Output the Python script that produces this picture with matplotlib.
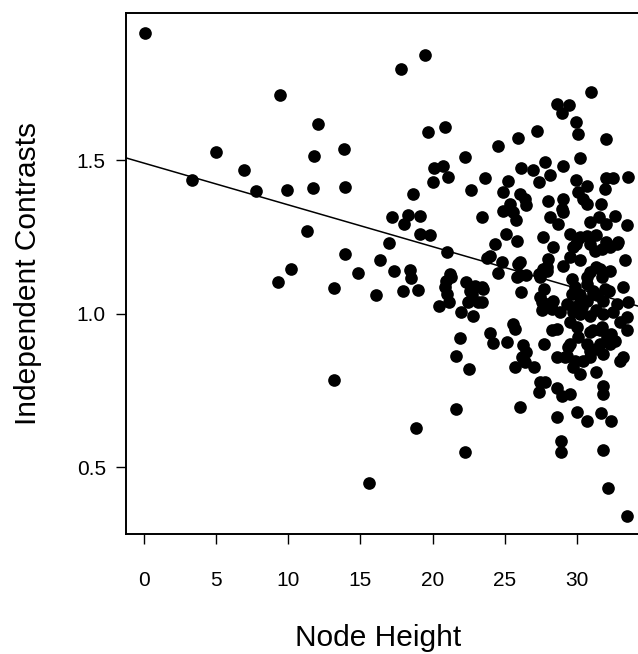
import matplotlib
import matplotlib.pyplot as plt
import numpy as np

matplotlib.use('Agg')
plt.rcParams['font.family'] = ['Liberation Sans', 'DejaVu Sans']

# Точки: высота узла и независимые контрасты
# левая, разреженная часть (x < 20)
height_left = [0.1, 3.3, 5.0, 6.95, 7.75, 9.3, 9.45, 9.9, 10.2, 11.3,
               11.7, 11.75, 12.05, 13.2, 13.2, 13.85, 13.95, 13.95, 14.85, 15.6,
               16.1, 16.35, 17.0, 17.2, 17.35, 17.8, 17.95, 18.05, 18.3, 18.45,
               18.5, 18.65, 18.85, 19.0, 19.15, 19.15, 19.45, 19.7, 19.8, 20.0]
contrast_left = [1.915, 1.434, 1.527, 1.467, 1.398, 1.104, 1.713, 1.404, 1.145, 1.27,
                 1.409, 1.512, 1.619, 1.082, 0.784, 1.537, 1.413, 1.195, 1.133, 0.449,
                 1.062, 1.176, 1.231, 1.313, 1.139, 1.798, 1.072, 1.291, 1.322, 1.143,
                 1.116, 1.389, 0.628, 1.078, 1.317, 1.258, 1.841, 1.592, 1.255, 1.429]

# 20 - 26
height_mid = [20.1, 20.45, 20.7, 20.85, 20.9, 20.85, 21.0, 21.0, 21.1, 21.15,
              21.2, 21.3, 21.65, 21.6, 21.9, 22.0, 22.25, 22.25, 22.35, 22.45,
              22.55, 22.6, 22.65, 22.7, 22.8, 22.95, 23.15, 23.4, 23.4, 23.45,
              23.5, 23.6, 23.75, 24.0, 24.2, 24.0, 24.3, 24.55, 24.55, 24.8,
              24.85, 24.9, 25.1, 25.15, 25.25, 25.35, 25.6, 25.6, 25.7, 25.7,
              25.8, 25.85, 25.85, 25.9, 25.95]
contrast_mid = [1.475, 1.024, 1.48, 1.608, 1.107, 1.086, 1.199, 1.064, 1.445, 1.037,
                1.13, 1.12, 0.69, 0.863, 0.92, 1.006, 1.51, 0.548, 1.102, 1.037,
                0.82, 1.075, 1.402, 1.064, 0.993, 1.091, 1.037, 1.313, 1.086, 1.037,
                1.08, 1.442, 1.182, 0.937, 0.905, 1.189, 1.227, 1.545, 1.131, 1.167,
                1.395, 1.335, 1.26, 0.907, 1.431, 1.357, 1.33, 0.966, 0.95, 0.825,
                1.305, 1.235, 1.12, 1.572, 1.162]

# 26 - 29
height_dense = [26.05, 26.05, 26.05, 26.05, 26.15, 26.15, 26.2, 26.3, 26.4, 26.4,
                26.5, 26.5, 26.5, 26.95, 27.0, 27.25, 27.35, 27.35, 27.4, 27.45,
                27.45, 27.45, 27.55, 27.6, 27.65, 27.7, 27.7, 27.8, 27.8, 27.9,
                27.9, 27.9, 28.0, 28.0, 28.15, 28.15, 28.25, 28.25, 28.35, 28.35,
                28.6, 28.6, 28.6, 28.6, 28.65, 28.7, 28.85, 28.9, 28.9, 28.95,
                28.95]
contrast_dense = [1.39, 1.167, 1.124, 0.695, 1.475, 1.069, 0.858, 0.896, 1.374, 0.841,
                  1.352, 1.127, 0.874, 1.469, 0.825, 1.594, 1.129, 0.744, 1.43, 1.118,
                  0.776, 1.053, 1.01, 1.037, 1.249, 1.08, 0.901, 1.493, 0.776, 1.151,
                  1.14, 1.032, 1.368, 1.178, 1.45, 1.314, 0.945, 1.015, 1.216, 1.042,
                  0.95, 0.858, 0.757, 0.662, 1.681, 1.292, 1.004, 0.586, 0.548, 1.341,
                  0.733]

# 29 и дальше
height_right = [29.0, 29.05, 29.05, 29.05, 29.2, 29.4, 29.45, 29.5, 29.5, 29.5,
                29.5, 29.65, 29.75, 29.75, 29.85, 29.95, 29.95, 29.95, 30.0, 30.05,
                30.1, 30.1, 30.2, 30.2, 30.2, 30.2, 30.2, 30.2, 30.45, 30.45,
                30.7, 30.7, 30.7, 30.7, 30.9, 30.9, 30.9, 30.9, 30.9, 30.9,
                30.9, 31.0, 31.15, 31.25, 31.35, 31.35, 31.35, 31.35, 31.35, 31.5,
                31.6, 31.6, 31.7, 31.7, 31.8, 31.8, 31.8, 31.8, 31.95, 32.0,
                32.05, 32.05, 32.05, 32.15, 32.2, 32.3, 32.4, 32.4, 32.5, 32.5,
                32.65, 32.75, 33.0, 33.0, 33.2, 33.2, 33.35, 33.45, 33.45, 33.45,
                33.45, 33.55, 33.55]
contrast_right = [1.654, 1.48, 1.374, 1.156, 0.858, 0.89, 1.68, 1.26, 1.183, 0.972,
                  0.738, 1.064, 1.02, 0.825, 0.847, 1.625, 1.435, 1.227, 0.679, 1.585,
                  1.395, 0.923, 1.507, 1.249, 1.173, 1.037, 0.999, 0.804, 1.374, 0.847,
                  1.417, 1.357, 1.097, 0.649, 1.297, 1.227, 1.135, 0.993, 0.939, 0.879,
                  0.858, 1.723, 1.064, 1.205, 1.257, 1.151, 1.01, 0.885, 0.809, 1.314,
                  1.146, 0.945, 1.357, 0.675, 1.042, 0.765, 0.738, 0.557, 1.406, 1.569,
                  1.441, 1.292, 1.232, 0.431, 1.075, 0.901, 0.934, 0.649, 1.442, 1.004,
                  1.319, 1.227, 0.972, 0.847, 1.088, 0.858, 1.175, 1.287, 0.988, 0.945,
                  0.342, 1.444, 1.037]

# самое плотное ядро облака (29 - 33)
height_core = [29.06, 30.1, 30.68, 32.87, 29.75, 31.72, 32.29, 32.29, 29.64, 30.68,
               31.72, 29.87, 31.14, 31.95, 30.21, 29.29, 30.68, 31.37, 32.76, 29.75,
               30.33, 31.83, 29.98, 31.14, 31.72, 32.06, 29.52, 30.68, 31.6, 32.64,
               29.29, 31.83, 27.67]
contrast_core = [1.33, 1.243, 1.254, 1.232, 1.216, 1.21, 1.216, 1.14, 1.113, 1.118,
                 1.118, 1.086, 1.075, 1.08, 1.059, 1.032, 1.042, 1.059, 1.032, 1.004,
                 1.02, 0.999, 0.955, 0.945, 0.955, 0.923, 0.901, 0.901, 0.901, 0.912,
                 0.863, 0.869, 1.146]

# Линия регрессии
fit_intercept = 1.49
fit_slope = -0.0136

x_ticks = [0, 5, 10, 15, 20, 25, 30]
y_ticks = [0.5, 1.0, 1.5]

node_height = np.concatenate([height_left, height_mid, height_dense, height_right, height_core])
contrasts = np.concatenate([contrast_left, contrast_mid, contrast_dense, contrast_right, contrast_core])

xlim = (-1.25, 35.0)
ylim = (0.282, 1.979)

fig = plt.figure(figsize=(6.38, 6.54), dpi=100)
# ось шире фигуры - правая рамка уходит за край, как на оригинале
ax = fig.add_axes([126 / 638, 120 / 654, 523 / 638, 521 / 654])

ax.scatter(node_height, contrasts, s=83, c='black', linewidths=0, zorder=3)

line_x = np.array(xlim)
ax.plot(line_x, fit_intercept + fit_slope * line_x, color='black', linewidth=1.1, zorder=2)

ax.set_xlim(*xlim)
ax.set_ylim(*ylim)
ax.set_xticks(x_ticks)
ax.set_xticklabels([str(t) for t in x_ticks])
ax.set_yticks(y_ticks)
ax.set_yticklabels(['0.5', '1.0', '1.5'])

for side in ['left', 'top', 'bottom', 'right']:
    ax.spines[side].set_linewidth(1.4)

ax.tick_params(axis='x', length=7.5, width=1.0, pad=19, labelsize=15)
ax.tick_params(axis='y', length=7.5, width=1.0, pad=7, labelsize=15)

fig.text(378.5 / 638, (654 - 646.5) / 654, 'Node Height', fontsize=21.5,
         ha='center', va='baseline')
fig.text(28 / 638, (654 - 273.5) / 654, 'Independent Contrasts', fontsize=21.5,
         ha='center', va='center', rotation=90)

fig.savefig('out.png', dpi=100)
